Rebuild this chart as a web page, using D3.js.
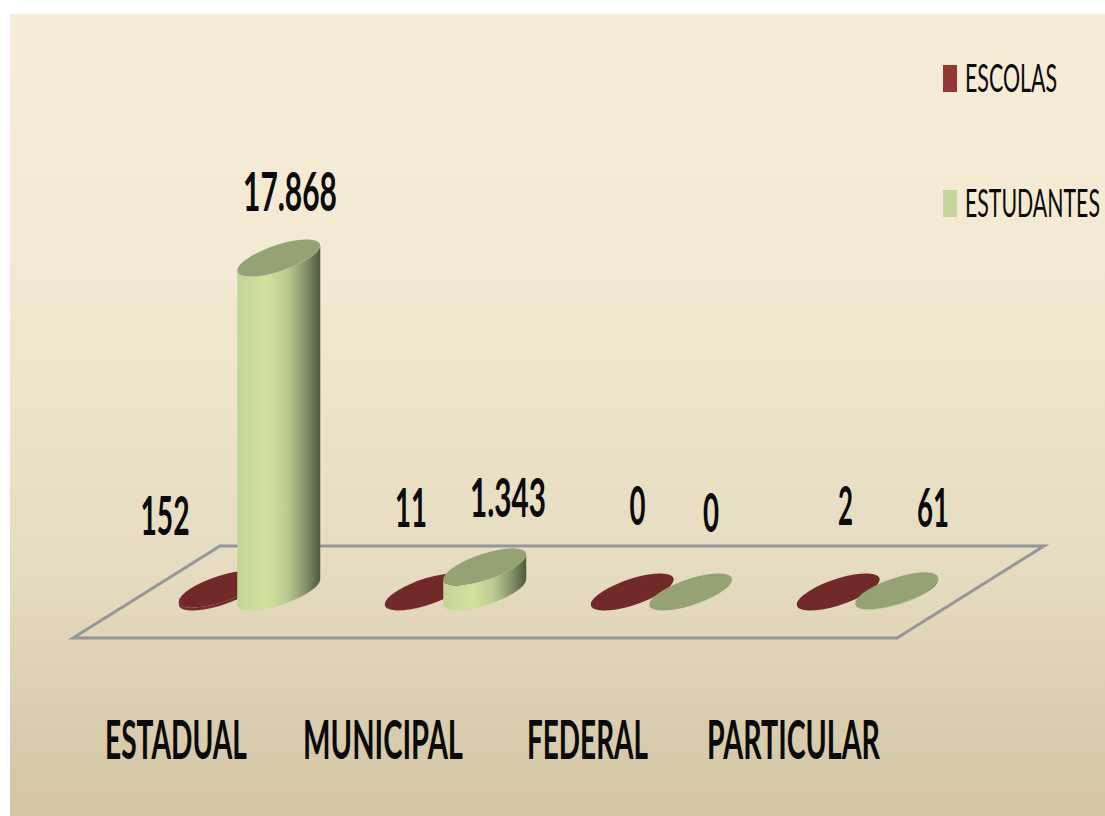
<!DOCTYPE html>
<html>
<head>
<meta charset="utf-8">
<script src="https://cdn.jsdelivr.net/npm/d3@7"></script>
<style>
html, body { margin: 0; padding: 0; background: #fff; overflow: hidden; }
text { font-family: Lato, "Open Sans", sans-serif; fill: #0a0a0a; }
</style>
</head>
<body>
<div id="chart"></div>
<script>
const categories = ["ESTADUAL", "MUNICIPAL", "FEDERAL", "PARTICULAR"];
const seriesNames = ["ESCOLAS", "ESTUDANTES"];
const escolas = [152, 11, 0, 2];
const estudantes = [17868, 1343, 0, 61];
const escolasLabels = ["152", "11", "0", "2"];
const estudantesLabels = ["17.868", "1.343", "0", "61"];

const WIDTH = 1105;
const HEIGHT = 816;

const svg = d3.select("#chart")
    .append("svg")
    .attr("width", WIDTH)
    .attr("height", HEIGHT)
    .style("display", "block");

const defs = svg.append("defs");

// Slide background fades from cream to tan.
const bg = defs.append("linearGradient")
    .attr("id", "bg")
    .attr("x1", 0).attr("x2", 0).attr("y1", 0).attr("y2", 1);
bg.append("stop").attr("offset", "0%").attr("stop-color", "#f7ecd5");
bg.append("stop").attr("offset", "30%").attr("stop-color", "#f4ead3");
bg.append("stop").attr("offset", "70%").attr("stop-color", "#e5dbc0");
bg.append("stop").attr("offset", "100%").attr("stop-color", "#d3c5a3");

// Side shading of the cylinders, lit left of the middle.
const sideOffsets = [0, 0.35, 0.6, 0.8, 1];
const sideStops = {
    ESCOLAS: ["#722a28", "#7c302e", "#722a28", "#5c2220", "#4a1c1a"],
    ESTUDANTES: ["#c3d497", "#d0e1a1", "#bccc90", "#8b9970", "#4f5a3c"]
};
seriesNames.forEach((name, i) => {
    const grad = defs.append("linearGradient")
        .attr("id", `side-${i}`)
        .attr("x1", 0).attr("x2", 1).attr("y1", 0).attr("y2", 0);
    sideOffsets.forEach((o, j) => {
        grad.append("stop").attr("offset", o).attr("stop-color", sideStops[name][j]);
    });
});

svg.append("rect")
    .attr("x", 10).attr("y", 14)
    .attr("width", WIDTH - 10).attr("height", HEIGHT - 14)
    .attr("fill", "url(#bg)");

const x = d3.scaleBand()
    .domain(categories)
    .range([146.5, 970.5]);

const xSeries = d3.scaleBand()
    .domain(seriesNames)
    .range([x.bandwidth() / 2 - 58.5, x.bandwidth() / 2 + 58.5]);

const y = d3.scaleLinear()
    .domain([0, 17868])
    .range([592, 258]);

// Floor parallelogram around the baseline.
const depthX = 73.5;
const depthY = 46;
const [x0, x1] = x.range();
const floor = [
    [x0 - depthX, y(0) + depthY],
    [x1 - depthX, y(0) + depthY],
    [x1 + depthX, y(0) - depthY],
    [x0 + depthX, y(0) - depthY]
];
svg.append("path")
    .attr("d", d3.line()(floor) + "Z")
    .attr("fill", "none")
    .attr("stroke", "#94969a")
    .attr("stroke-width", 3);

// Tilted base ellipse: half axes and rotation, plus its horizontal extremes.
const rx = 43.5;
const ry = 13;
const tilt = -18.5;
const halfW = 41.5;
const edgeDy = 12.5;

const ellipsePath = (cx, cy) =>
    `M${cx - halfW},${cy + edgeDy}` +
    `A${rx},${ry} ${tilt} 1 1 ${cx + halfW},${cy - edgeDy}` +
    `A${rx},${ry} ${tilt} 1 1 ${cx - halfW},${cy + edgeDy}Z`;

const sidePath = (cx, top, base) =>
    `M${cx - halfW},${top + edgeDy}` +
    `L${cx - halfW},${base + edgeDy}` +
    `A${rx},${ry} ${tilt} 1 0 ${cx + halfW},${base - edgeDy}` +
    `L${cx + halfW},${top - edgeDy}` +
    `A${rx},${ry} ${tilt} 1 1 ${cx - halfW},${top + edgeDy}Z`;

const capColors = ["#722a28", "#95a374"];
const seriesValues = [escolas, estudantes];
const seriesLabels = [escolasLabels, estudantesLabels];

categories.forEach((cat, c) => {
    seriesNames.forEach((name, s) => {
        const value = seriesValues[s][c];
        const cx = x(cat) + xSeries(name) + xSeries.bandwidth() / 2;
        if (value > 0) {
            svg.append("path")
                .attr("d", sidePath(cx, y(value), y(0)))
                .attr("fill", `url(#side-${s})`);
        }
        svg.append("path")
            .attr("d", ellipsePath(cx, y(value)))
            .attr("fill", capColors[s]);
    });
});

// The reference squeezes its text, so each label is scaled to a fitted width.
const addLabel = (label, px, py, width, size, weight, anchor) => {
    const node = svg.append("text")
        .attr("text-anchor", anchor)
        .style("font-size", `${size}px`)
        .style("font-weight", weight)
        .text(label);
    const squeeze = width / node.node().getComputedTextLength();
    node.attr("transform", `translate(${px},${py}) scale(${squeeze},1)`);
};

// Value labels sit where the reference placed them by hand.
const labelX = [[165, 290], [411, 508], [637.5, 711], [845.5, 933]];
const labelY = [[535, 211], [527, 517], [525, 532], [525, 527]];
const labelW = [[49, 94], [32, 76], [16, 16], [15, 32]];

categories.forEach((cat, c) => {
    seriesNames.forEach((name, s) => {
        addLabel(seriesLabels[s][c], labelX[c][s], labelY[c][s], labelW[c][s], 54, 700, "middle");
    });
});

const catLabelX = [176, 383, 587.5, 793.5];
const catLabelW = [142, 160, 121, 173];
categories.forEach((cat, i) => {
    addLabel(cat, catLabelX[i], 759, catLabelW[i], 53, 700, "middle");
});

const legendY = [92, 217];
const legendW = [92, 135];
const legendColors = ["#943634", "#c3d69b"];
seriesNames.forEach((name, i) => {
    svg.append("rect")
        .attr("x", 943)
        .attr("y", legendY[i] - 27)
        .attr("width", 14)
        .attr("height", 27)
        .attr("fill", legendColors[i]);
    addLabel(name, 965, legendY[i], legendW[i], 38, 400, "start");
});
</script>
</body>
</html>
